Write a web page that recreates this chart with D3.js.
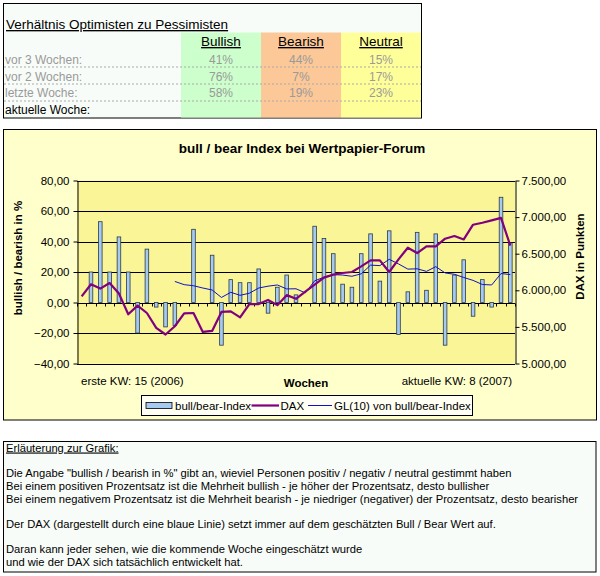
<!DOCTYPE html>
<html>
<head>
<meta charset="utf-8">
<script src="https://cdn.jsdelivr.net/npm/d3@7"></script>
<style>
  body { margin: 0; background: #ffffff; }
  svg text { font-family: "Liberation Sans", Arial, sans-serif; }
</style>
</head>
<body>
<svg id="chart" width="600" height="576"></svg>
<script>
// ---------- DATA ----------
const categories = [
  "15/06","16/06","17/06","18/06","19/06","20/06","21/06","22/06","23/06","24/06",
  "25/06","26/06","27/06","28/06","29/06","30/06","31/06","32/06","33/06","34/06",
  "35/06","36/06","37/06","38/06","39/06","40/06","41/06","42/06","43/06","44/06",
  "45/06","46/06","47/06","48/06","49/06","50/06","51/06","52/06","01/07","02/07",
  "03/07","04/07","05/07","06/07","07/07","08/07","09/07"
];
const bullBearIndex = [
  null, 20, 53, 20, 43, 20, -20, 35, -3, -16,
  -15, 0, 48, 0, 31, -28, 15, 13, 13, 22,
  -7, 10, 18, 5, 0, 50, 42, 32, 12, 10,
  32, 45, 14, 47, -21, 7, 46, 8, 45, -28,
  18, 28, -9, 15, -3, 69, 39
];
const dax = [
  5918, 6082, 6023, 6099, 5955, 5672, 5791, 5690, 5486, 5396,
  5509, 5685, 5690, 5431, 5445, 5704, 5713, 5630, 5812, 5812,
  5868, 5797, 5934, 5884, 5982, 6078, 6173, 6214, 6236, 6250,
  6327, 6409, 6409, 6250, 6423, 6582, 6509, 6600, 6600, 6705,
  6741, 6695, 6896, 6923, 6955, 6990, 6609
];
const gl10 = [
  null, null, null, null, null, null, null, null, null, null,
  13.8, 11.7, 11.0, 9.5, 8.2, 3.3, 6.7, 4.7, 6.1, 9.5,
  10.7, 11.5, 8.9, 9.0, 6.3, 14.2, 16.6, 18.3, 18.0, 17.2,
  18.8, 24.5, 24.2, 28.3, 25.3, 21.9, 22.1, 20.4, 23.5, 19.4,
  18.5, 16.4, 14.5, 11.8, 11.5, 19.0, 18.3
];
const leftTicks = [-40, -20, 0, 20, 40, 60, 80];
const rightTicks = [5000, 5500, 6000, 6500, 7000, 7500];

const tableColumns = ["Bullish", "Bearish", "Neutral"];
const tableRows = ["vor 3 Wochen:", "vor 2 Wochen:", "letzte Woche:", "aktuelle Woche:"];
const bullishPct = ["41%", "76%", "58%", ""];
const bearishPct = ["44%", "7%", "19%", ""];
const neutralPct = ["15%", "17%", "23%", ""];

const notes = [
  "Die Angabe \"bullish / bearish in %\" gibt an, wieviel Personen positiv / negativ / neutral gestimmt haben",
  "Bei einem positiven Prozentsatz ist die Mehrheit bullish - je höher der Prozentsatz, desto bullisher",
  "Bei einem negativem Prozentsatz ist die Mehrheit bearish - je niedriger (negativer) der Prozentsatz, desto bearisher",
  "",
  "Der DAX (dargestellt durch eine blaue Linie) setzt immer auf dem geschätzten Bull / Bear Wert auf.",
  "",
  "Daran kann jeder sehen, wie die kommende Woche eingeschätzt wurde",
  "und wie der DAX sich tatsächlich entwickelt hat."
];

// ---------- DRAW ----------
const svg = d3.select("#chart");
const de = d3.formatLocale({decimal: ",", thousands: ".", grouping: [3], currency: ["", "€"]});
const fmt = de.format(",.2f");

// ===== Top table =====
const T = {x: 3.5, y: 3.5, w: 418, h: 114.5};
svg.append("rect").attr("x", T.x).attr("y", T.y).attr("width", T.w).attr("height", T.h)
  .attr("fill", "#f8fcf8").attr("stroke", "#000").attr("stroke-width", 1);
const colX = [181, 261, 341];
const colW = 80;
const colFill = ["#ccffcc", "#fcc898", "#ffff99"];
colX.forEach((cx, i) => {
  svg.append("rect").attr("x", cx).attr("y", 32.5).attr("width", i === 2 ? 80 : colW)
    .attr("height", 85).attr("fill", colFill[i]);
});
svg.append("text").attr("x", 6).attr("y", 29).attr("font-size", 13.5)
  .attr("text-decoration", "underline").text("Verhältnis Optimisten zu Pessimisten");
tableColumns.forEach((c, i) => {
  svg.append("text").attr("x", colX[i] + 40).attr("y", 46).attr("font-size", 13.5)
    .attr("text-anchor", "middle").attr("text-decoration", "underline").text(c);
});
const rowY = [63.5, 80.5, 97, 113.5];
[67, 84, 101].forEach(y => {
  svg.append("line").attr("x1", 4).attr("x2", 421).attr("y1", y).attr("y2", y)
    .attr("stroke", "#aaa").attr("stroke-width", 1).attr("stroke-dasharray", "2,2");
});
const cols = [bullishPct, bearishPct, neutralPct];
tableRows.forEach((r, j) => {
  svg.append("text").attr("x", 5).attr("y", rowY[j]).attr("font-size", 12)
    .attr("fill", j === 3 ? "#000" : "#9a9a9a").text(r);
  cols.forEach((col, i) => {
    svg.append("text").attr("x", colX[i] + 40).attr("y", rowY[j]).attr("font-size", 12)
      .attr("text-anchor", "middle").attr("fill", "#9a9a9a").text(col[j]);
  });
});

// ===== Chart box =====
svg.append("rect").attr("x", 3.5).attr("y", 129.5).attr("width", 593).attr("height", 290.5)
  .attr("fill", "#ffffcc").attr("stroke", "#000").attr("stroke-width", 1);
svg.append("text").attr("x", 302).attr("y", 152.5).attr("font-size", 13.5).attr("font-weight", "bold")
  .attr("text-anchor", "middle").text("bull / bear Index bei Wertpapier-Forum");

const P = {l: 77, r: 515, t: 180.5, b: 363.5};
const x = d3.scaleBand().domain(categories).range([P.l, P.r]).padding(0);
const yL = d3.scaleLinear().domain([-40, 80]).range([P.b, P.t]);
const yR = d3.scaleLinear().domain([5000, 7500]).range([P.b, P.t]);

svg.append("rect").attr("x", P.l).attr("y", P.t).attr("width", P.r - P.l).attr("height", P.b - P.t)
  .attr("fill", "#faf596");

// gridlines
svg.append("g").selectAll("line").data(leftTicks).join("line")
  .attr("x1", P.l).attr("x2", P.r)
  .attr("y1", d => Math.round(yL(d)) + 0.5).attr("y2", d => Math.round(yL(d)) + 0.5)
  .attr("stroke", "#000").attr("stroke-width", 1);

// category ticks along zero line
const y0 = Math.round(yL(0)) + 0.5;
svg.append("g").selectAll("line").data(categories.concat([null])).join("line")
  .attr("x1", (d, i) => Math.round(P.l + i * x.step()) + 0.5)
  .attr("x2", (d, i) => Math.round(P.l + i * x.step()) + 0.5)
  .attr("y1", y0).attr("y2", y0 + 3).attr("stroke", "#000").attr("stroke-width", 1);

// bars
const barW = 3.6;
svg.append("g").selectAll("rect")
  .data(bullBearIndex.map((v, i) => ({v, c: categories[i]})).filter(d => d.v !== null && d.v !== 0))
  .join("rect")
  .attr("x", d => x(d.c) + x.bandwidth() / 2 - barW / 2)
  .attr("y", d => Math.min(yL(d.v), yL(0)))
  .attr("width", barW)
  .attr("height", d => Math.abs(yL(d.v) - yL(0)))
  .attr("fill", "#a6caf0").attr("stroke", "#2a3a4a").attr("stroke-width", 0.8);

// GL(10) line
const glLine = d3.line()
  .defined(d => d.v !== null)
  .x(d => x(d.c) + x.bandwidth() / 2).y(d => yL(d.v));
svg.append("path").datum(gl10.map((v, i) => ({v, c: categories[i]})))
  .attr("d", glLine).attr("fill", "none").attr("stroke", "#1010c8").attr("stroke-width", 1);

// DAX line
const daxLine = d3.line().x(d => x(d.c) + x.bandwidth() / 2).y(d => yR(d.v));
svg.append("path").datum(dax.map((v, i) => ({v, c: categories[i]})))
  .attr("d", daxLine).attr("fill", "none").attr("stroke", "#800080").attr("stroke-width", 2.2)
  .attr("stroke-linejoin", "round");

// axes
const axL = svg.append("g").attr("transform", `translate(${P.l + 0.5},0)`)
  .call(d3.axisLeft(yL).tickValues(leftTicks).tickFormat(fmt).tickSize(4).tickSizeOuter(0).tickPadding(4));
const axR = svg.append("g").attr("transform", `translate(${P.r + 0.5},0)`)
  .call(d3.axisRight(yR).tickValues(rightTicks).tickFormat(fmt).tickSize(4).tickSizeOuter(0).tickPadding(2));
[axL, axR].forEach(a => {
  a.selectAll("text").attr("font-size", 11.5).attr("fill", "#000")
    .attr("font-family", "'Liberation Sans', Arial, sans-serif");
  a.selectAll("line").attr("stroke", "#000");
  a.select(".domain").attr("stroke", "#000");
});

// axis titles
svg.append("text").attr("transform", "translate(22,258) rotate(-90)").attr("text-anchor", "middle")
  .attr("font-size", 11.5).attr("font-weight", "bold").text("bullish / bearish in %");
svg.append("text").attr("transform", "translate(584,256.5) rotate(-90)").attr("text-anchor", "middle")
  .attr("font-size", 11.5).attr("font-weight", "bold").text("DAX in Punkten");
svg.append("text").attr("x", 81).attr("y", 385).attr("font-size", 11.5).text("erste KW: 15 (2006)");
svg.append("text").attr("x", 306).attr("y", 386.5).attr("font-size", 11.5).attr("font-weight", "bold")
  .attr("text-anchor", "middle").text("Wochen");
svg.append("text").attr("x", 512).attr("y", 385).attr("font-size", 11.5).attr("text-anchor", "end")
  .text("aktuelle KW: 8 (2007)");

// legend
const L = svg.append("g");
L.append("rect").attr("x", 141.5).attr("y", 395.5).attr("width", 331).attr("height", 20)
  .attr("fill", "#fffff4").attr("stroke", "#000").attr("stroke-width", 1);
L.append("rect").attr("x", 146).attr("y", 402.5).attr("width", 26).attr("height", 6)
  .attr("fill", "#a6caf0").attr("stroke", "#000").attr("stroke-width", 0.8);
L.append("text").attr("x", 175).attr("y", 410).attr("font-size", 11.5).text("bull/bear-Index");
L.append("line").attr("x1", 251.5).attr("x2", 279).attr("y1", 405.5).attr("y2", 405.5)
  .attr("stroke", "#800080").attr("stroke-width", 2.2);
L.append("text").attr("x", 280.5).attr("y", 410).attr("font-size", 11.5).text("DAX");
L.append("line").attr("x1", 308).attr("x2", 332).attr("y1", 405.5).attr("y2", 405.5)
  .attr("stroke", "#1010c8").attr("stroke-width", 1);
L.append("text").attr("x", 334).attr("y", 410).attr("font-size", 11.5).text("GL(10) von bull/bear-Index");

// ===== Bottom notes box =====
svg.append("rect").attr("x", 3.5).attr("y", 441.5).attr("width", 592.5).attr("height", 130.5)
  .attr("fill", "#f8fcf8").attr("stroke", "#000").attr("stroke-width", 1);
svg.append("text").attr("x", 6).attr("y", 451.5).attr("font-size", 11.2)
  .attr("text-decoration", "underline").text("Erläuterung zur Grafik:");
const noteY = [476.5, 489.5, 502.5, 515, 527.5, 540, 552.5, 565.5];
notes.forEach((n, i) => {
  if (!n) return;
  svg.append("text").attr("x", 6).attr("y", noteY[i]).attr("font-size", 11.2).text(n);
});
</script>
</body>
</html>
